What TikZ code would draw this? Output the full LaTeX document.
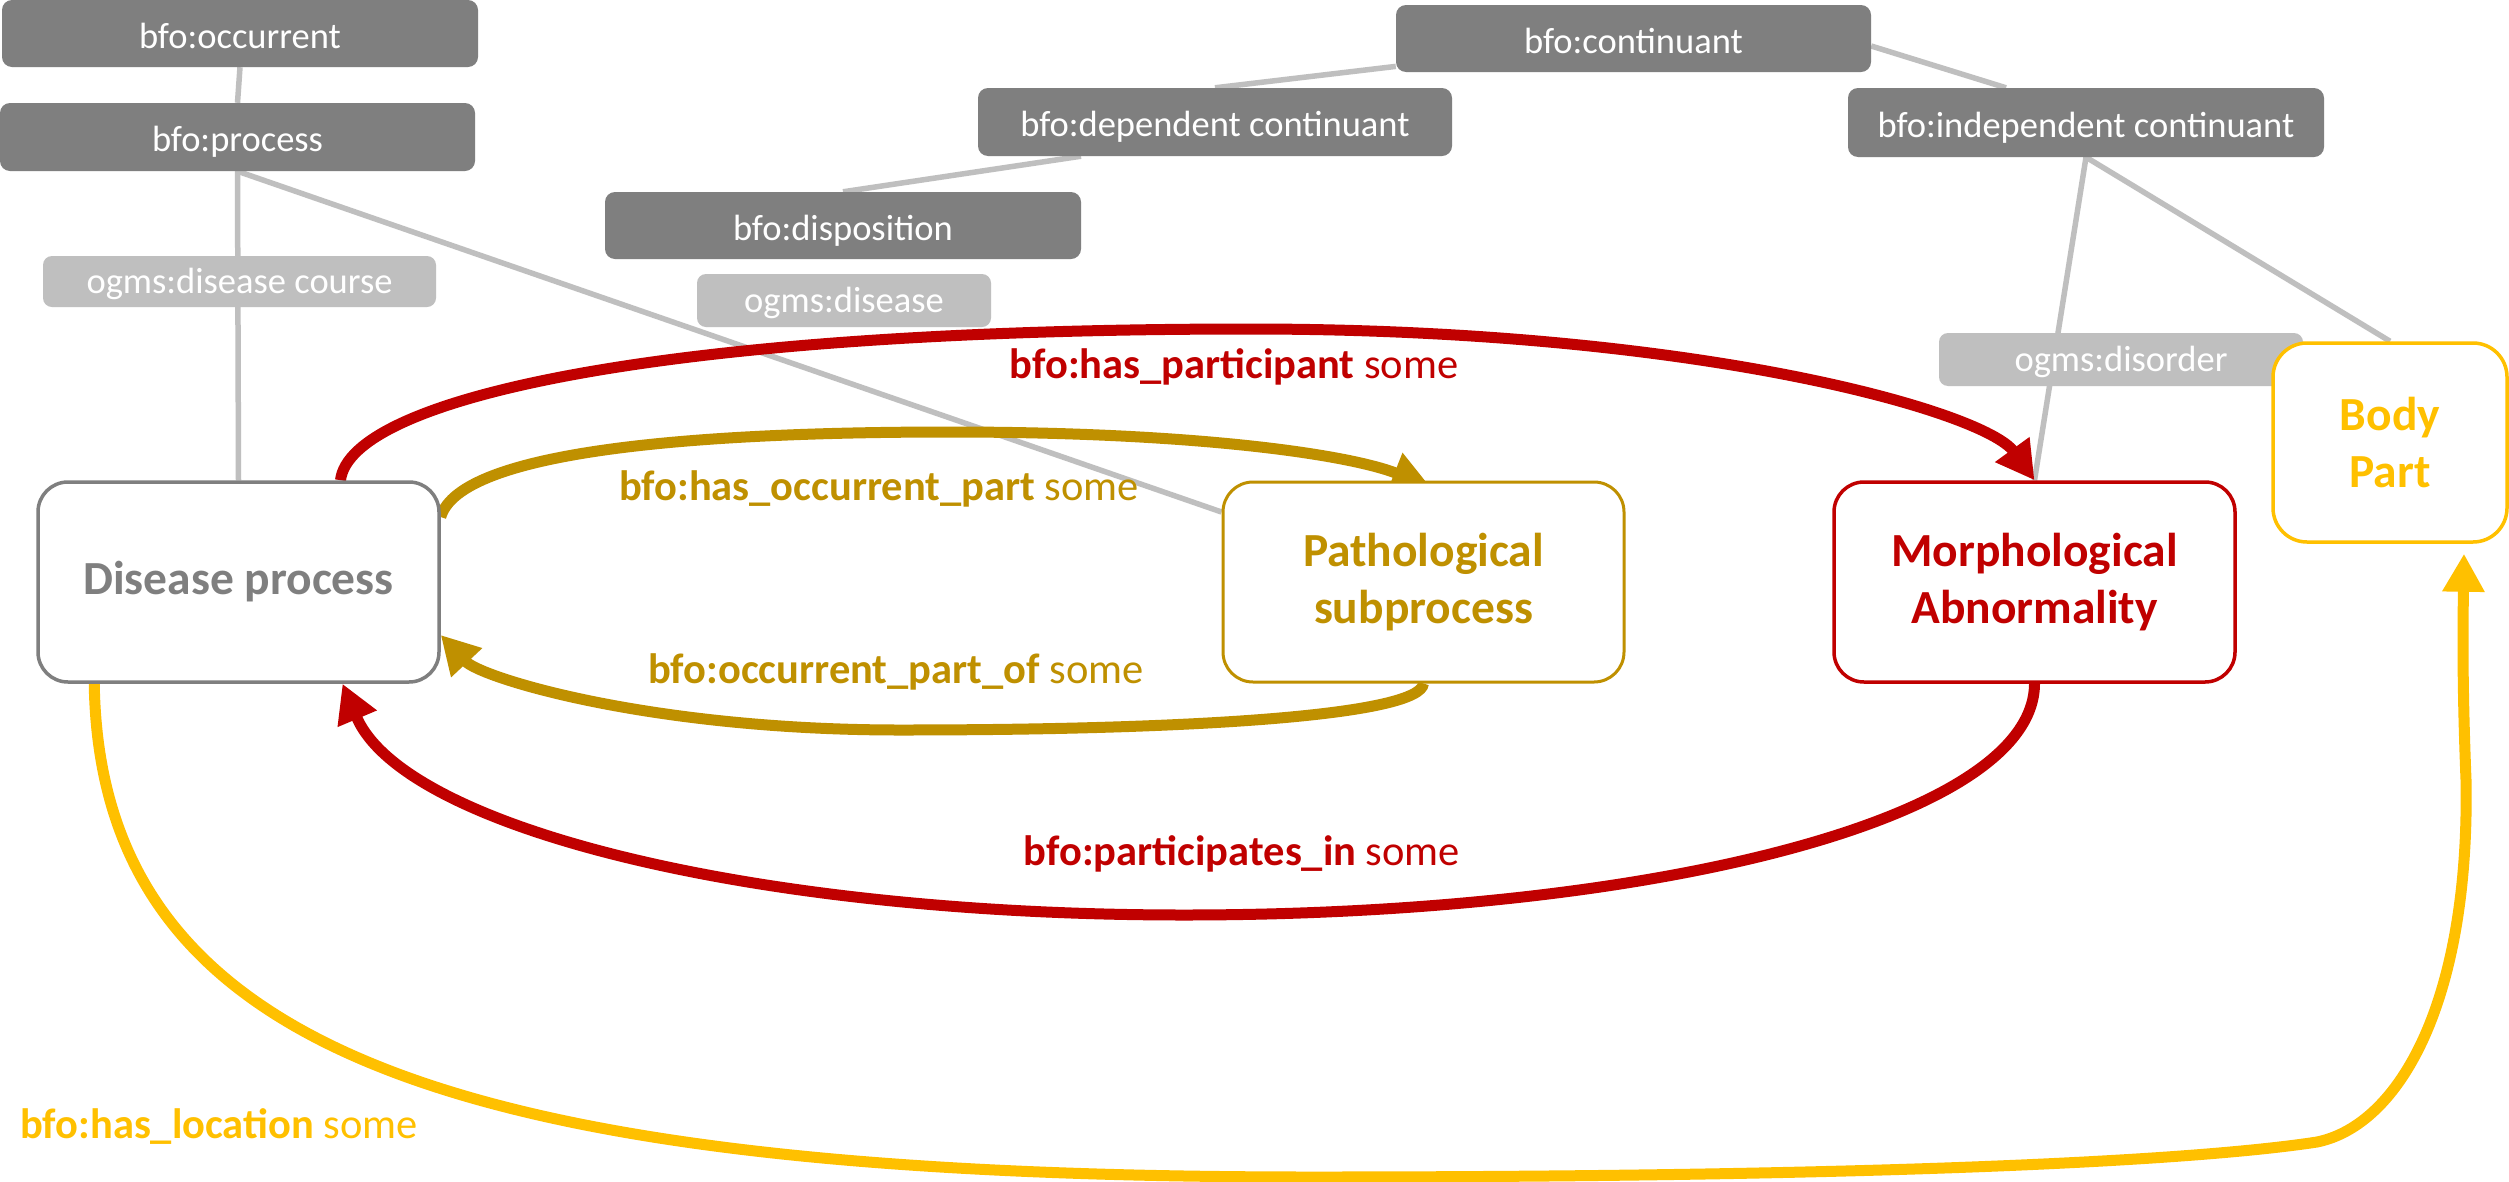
\documentclass[tikz,border=0pt]{standalone}
\usepackage{fontspec}
\setmainfont{Carlito}
\usetikzlibrary{arrows.meta}
\definecolor{dgray}{HTML}{7F7F7F}
\definecolor{lgray}{HTML}{BFBFBF}
\definecolor{rrel}{HTML}{C00000}
\definecolor{grel}{HTML}{BF9000}
\definecolor{yrel}{HTML}{FFC000}
\newcommand\tagtxt{\fontsize{36.5}{44}\selectfont}
\newcommand\boxtxt{\fontsize{47.5}{57.5}\selectfont\bfseries}
\newcommand\reltxt{\fontsize{42.5}{50}\selectfont}
\pgfdeclarelayer{paper}
\pgfdeclarelayer{links}
\pgfdeclarelayer{rels}
\pgfsetlayers{paper,links,rels,main}

\begin{document}
\begin{tikzpicture}[x=1pt,y=-1pt,
  darkbox/.style={rectangle, rounded corners=10pt, fill=dgray, text=white,
    inner sep=0pt, minimum width=476pt, minimum height=67pt, font=\tagtxt,
    text height=29pt, text depth=0pt},
  lightbox/.style={rectangle, rounded corners=9pt, fill=lgray, text=white,
    inner sep=0pt, minimum height=52pt, font=\tagtxt,
    text height=24pt, text depth=0pt},
  mainbox/.style={rectangle, rounded corners=30pt, fill=white, line width=3.5pt,
    inner sep=0pt, minimum width=401pt, minimum height=200pt, align=center,
    font=\boxtxt},
  isa/.style={draw=lgray, line width=5.5pt},
  rel/.style={line width=11pt, -{Triangle[length=38pt,width=40pt]}},
  reltag/.style={inner sep=0pt, anchor=base, font=\reltxt}
]
\useasboundingbox (0,0) rectangle (2509,1181);
\begin{pgfonlayer}{paper}
  \fill[white] (0,0) rectangle (2509,1181);
\end{pgfonlayer}

% upper ontology classes
\node[darkbox] (occ) at (240,33.5) {bfo:occurrent};
\node[darkbox, minimum width=475pt, minimum height=68pt] (proc) at (237.5,137) {bfo:process};
\node[lightbox, minimum width=393pt, minimum height=51pt] (course) at (239.5,281.5) {ogms:disease course};
\node[darkbox, minimum width=475pt] (cont) at (1633.5,38.5) {bfo:continuant};
\node[darkbox, minimum width=474pt, minimum height=68pt] (dep) at (1215,122) {bfo:dependent continuant};
\node[darkbox] (disp) at (843,225.5) {bfo:disposition};
\node[lightbox, minimum width=294pt, minimum height=53pt] (dis) at (844,300.5) {ogms:disease};
\node[darkbox, minimum height=69pt] (indep) at (2086,122.5) {bfo:independent continuant};
\node[lightbox, minimum width=364pt, minimum height=53pt] (disord) at (2121,359.5) {ogms:disorder};

% domain classes
\node[mainbox, draw=dgray, text=dgray] (dp) at (238.5,582) {Disease process};
\node[mainbox, draw=grel, text=grel, line width=3pt] (pt) at (1423.5,582) {Pathological\\subprocess};
\node[mainbox, draw=rrel, text=rrel] (mo) at (2034.5,582) {Morphological\\Abnormality};
\node[mainbox, draw=yrel, text=yrel, minimum width=234pt, minimum height=199pt, rounded corners=34pt] (bp) at (2390,442.5) {Body\\Part};

% subclass links
\begin{pgfonlayer}{links}
  \draw[isa] (occ.south) -- (proc.north);
  \draw[isa] (proc.south) -- (dp.north);
  \draw[isa] (proc.south) -- ([yshift=70pt]pt.west);
  \draw[isa] (dep.north) -- (cont);
  \draw[isa] (disp.north) -- ([xshift=-134pt]dep.south);
  \draw[isa] ([yshift=-7.5pt]cont.east) -- ([xshift=-80pt]indep.north);
  \draw[isa] (indep.south) -- (mo.north);
  \draw[isa] (indep.south) -- (bp.north);
\end{pgfonlayer}

% relations
\begin{pgfonlayer}{rels}
  \draw[rel, rrel] ([xshift=102pt]dp.north)
    .. controls (350,400) and (650,329) .. (1250,329)
    .. controls (1700,329) and (1985,412) .. (mo.north);
  \draw[rel, grel] ([yshift=65pt]dp.east)
    .. controls (460,450) and (700,432) .. (950,432)
    .. controls (1200,432) and (1350,455) .. ([xshift=6.5pt,yshift=-6pt]pt.north);
  \draw[rel, grel] (pt.south)
    .. controls (1420,715) and (1200,730) .. (900,730)
    .. controls (650,730) and (481,678) .. ([yshift=-53pt]dp.east);
  \draw[rel, rrel] (mo.south)
    .. controls (2034,820) and (1650,915) .. (1184,915)
    .. controls (750,915) and (403,827) .. ([xshift=104pt]dp.south);
  \draw[rel, yrel] ([xshift=58pt]dp.south west)
    .. controls (100,1050) and (450,1177) .. (1312,1177)
    .. controls (1900,1177) and (2200,1160) .. (2317,1142)
    .. controls (2400,1125) and (2470,1000) .. (2466,780)
    .. controls (2462,680) and (2463,620) .. ([xshift=74pt,yshift=-10pt]bp.south);
\end{pgfonlayer}

% relation labels
\node[reltag, text=rrel] (hp) at (1234,378) {\textbf{bfo:has\_participant} some};
\node[reltag, text=grel] (hop) at (879,500) {\textbf{bfo:has\_occurrent\_part} some};
\node[reltag, text=grel] (opo) at (896,683) {\textbf{bfo:occurrent\_part\_of} some};
\node[reltag, text=rrel] (pin) at (1242,865) {\textbf{bfo:participates\_in} some};
\node[reltag, text=yrel, anchor=base west] (hloc) at (20,1138) {\textbf{bfo:has\_location} some};
\end{tikzpicture}
\end{document}
